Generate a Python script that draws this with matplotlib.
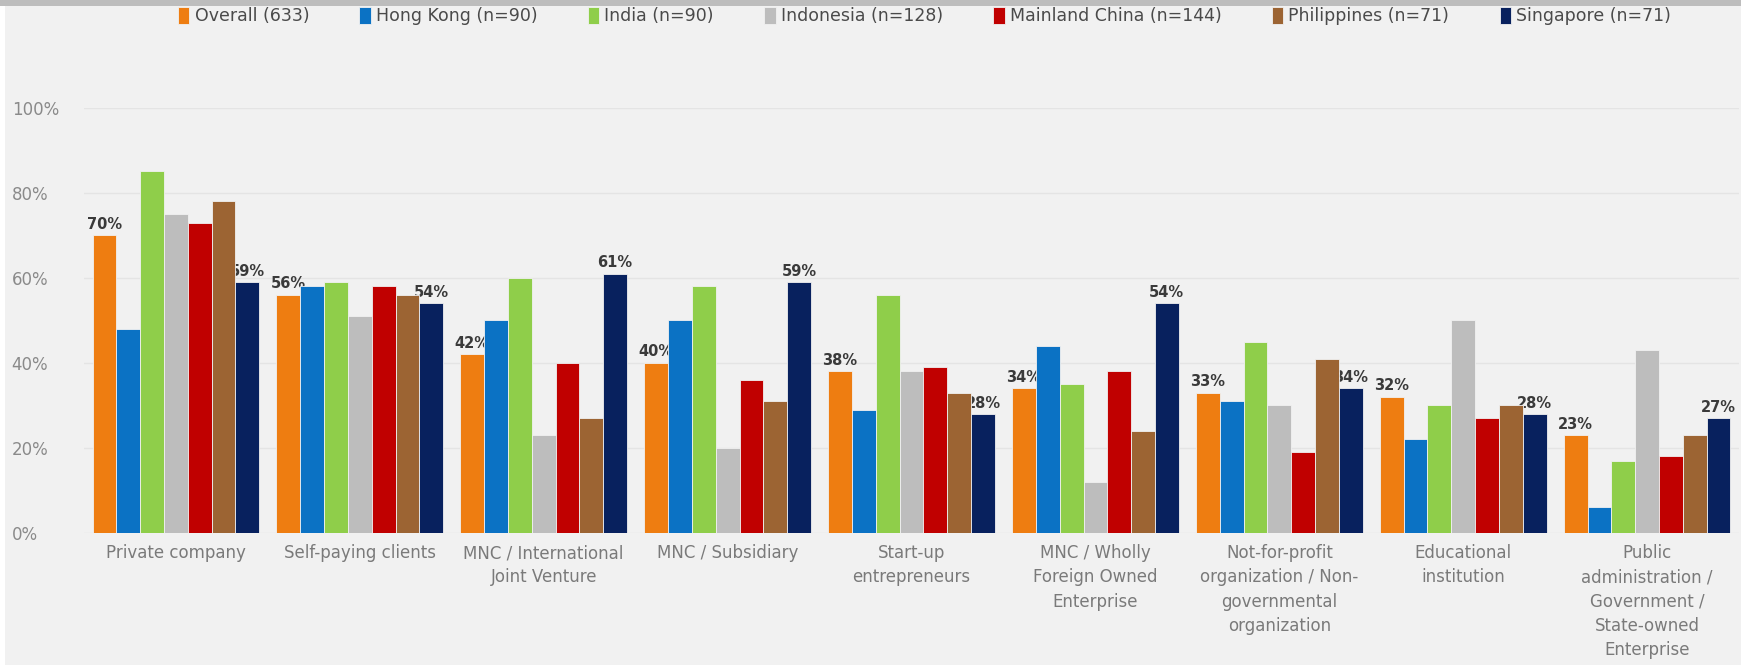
import numpy as np
import matplotlib.pyplot as plt
from matplotlib.patches import Rectangle

plt.rcParams['font.family'] = ['DejaVu Sans']

# Категории и ряды данных
categories = [
    "Private company",
    "Self-paying clients",
    "MNC / International\nJoint Venture",
    "MNC / Subsidiary",
    "Start-up\nentrepreneurs",
    "MNC / Wholly\nForeign Owned\nEnterprise",
    "Not-for-profit\norganization / Non-\ngovernmental\norganization",
    "Educational\ninstitution",
    "Public\nadministration /\nGovernment /\nState-owned\nEnterprise",
]

series_names = [
    "Overall (633)",
    "Hong Kong (n=90)",
    "India (n=90)",
    "Indonesia (n=128)",
    "Mainland China (n=144)",
    "Philippines (n=71)",
    "Singapore (n=71)",
]

overall = [70, 56, 42, 40, 38, 34, 33, 32, 23]
hong_kong = [48, 58, 50, 50, 29, 44, 31, 22, 6]
india = [85, 59, 60, 58, 56, 35, 45, 30, 17]
indonesia = [75, 51, 23, 20, 38, 12, 30, 50, 43]
mainland_china = [73, 58, 40, 36, 39, 38, 19, 27, 18]
philippines = [78, 56, 27, 31, 33, 24, 41, 30, 23]
singapore = [59, 54, 61, 59, 28, 54, 34, 28, 27]

series = [overall, hong_kong, india, indonesia, mainland_china, philippines, singapore]
labelled = [True, False, False, False, False, False, True]

colors = ['#EE7D11', '#0B72C4', '#8FCE4A', '#BDBDBD', '#C00000', '#9C6433', '#08215E']

y_ticks = [0, 20, 40, 60, 80, 100]
y_tick_labels = ['0%', '20%', '40%', '60%', '80%', '100%']

bg = '#f1f1f1'

fig = plt.figure(figsize=(17.41, 6.65), dpi=100, facecolor=bg)
ax = fig.add_axes([0.0482, 0.1985, 0.9507, 0.6396])
ax.set_facecolor(bg)

# Серая полоса сверху и белая полоса слева
fig.patches.append(Rectangle((0, 0.991), 1, 0.009, transform=fig.transFigure,
                             facecolor='#bdbdbd', edgecolor='none', zorder=0))
fig.patches.append(Rectangle((0, 0), 0.003, 0.991, transform=fig.transFigure,
                             facecolor='#ffffff', edgecolor='none', zorder=0))

x = np.arange(len(categories))
w = 0.1295

for i, (vals, name, c) in enumerate(zip(series, series_names, colors)):
    pos = x + (i - 3) * w
    ax.bar(pos, vals, width=w, color=c, edgecolor=bg, linewidth=0.6,
           label=name, zorder=3)
    if labelled[i]:
        # подписи рисуем под столбиками, как в оригинале
        for p, v in zip(pos, vals):
            ax.text(p, v + 0.8, f'{v}%', ha='center', va='bottom',
                    fontsize=10.5, fontweight='bold', color='#3a3a3a', zorder=2)

ax.set_xlim(-0.5, len(categories) - 0.5)
ax.set_ylim(0, 100)
ax.set_yticks(y_ticks)
ax.set_yticklabels(y_tick_labels)
ax.set_xticks(x)
ax.set_xticklabels(categories, fontsize=12, color='#7a7a7a', linespacing=1.45,
                   va='top')

ax.tick_params(axis='y', length=0, pad=52, labelsize=12, labelcolor='#8a8a8a')
for lbl in ax.get_yticklabels():
    lbl.set_horizontalalignment('left')
ax.tick_params(axis='x', length=0, pad=8)

ax.grid(axis='y', color='#e4e4e4', linewidth=1, zorder=0)
ax.set_axisbelow(True)
for s in ax.spines.values():
    s.set_visible(False)

leg = fig.legend(loc='upper center', bbox_to_anchor=(0.531, 1.013), ncol=7,
                 frameon=False, fontsize=12.5, handlelength=0.65, handleheight=1.1,
                 handletextpad=0.3, columnspacing=2.9)
for t in leg.get_texts():
    t.set_color('#4a4a4a')

fig.savefig('out.png', dpi=100, facecolor=bg)
